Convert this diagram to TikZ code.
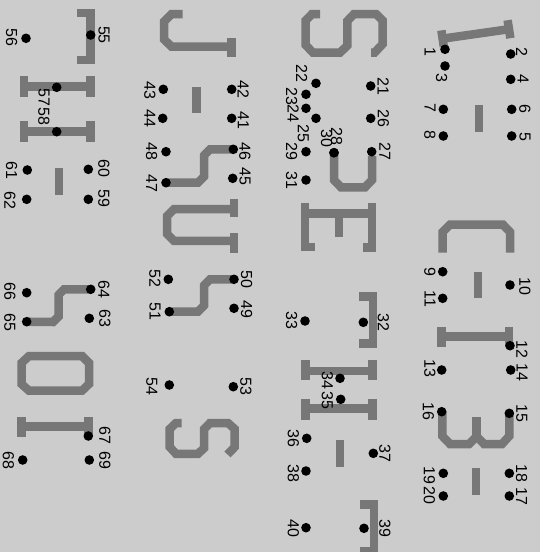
\documentclass[tikz,border=0pt]{standalone}
\usepackage{fontspec}
\setmainfont{Liberation Sans}
\definecolor{bggray}{RGB}{204,204,204}
\definecolor{glyphgray}{RGB}{119,119,119}
\newcommand\dl[5]{\node[dotst] (d#1) at (#2,#3) {}; \node[lab] (l#1) at (#4,#5) {#1};}
\tikzset{
  glyph/.style={draw=glyphgray, line width=8.5pt, line join=miter, line cap=butt},
  dotst/.style={circle, fill=black, inner sep=0pt, minimum size=9.6pt},
  lab/.style={rotate=-90, inner sep=0pt, font=\fontsize{16}{16}\selectfont}
}
\begin{document}
\begin{tikzpicture}[x=1pt,y=-1pt]
\useasboundingbox (0,0) rectangle (540,552);
\fill[bggray] (0,0) rectangle (540,552);
\begin{scope}[opacity=0]
\node[dotst] (d28) at (334,152.7) {};
\node[dotst] (d46) at (233.3,149.3) {};
\node[dotst] (d47) at (166,182.7) {};
\node[dotst] (d50) at (234,279.3) {};
\node[dotst] (d51) at (169.3,311.7) {};
\node[dotst] (d64) at (90.7,289.3) {};
\node[dotst] (d65) at (26.7,321.7) {};
\end{scope}
\begin{scope}
\clip (0,0) rectangle (540,552);
% column 1 (right)
\draw[glyph] (443,38.6) -- (509,29.2);
\draw[glyph] (441.4,30.4) -- (443.8,46.8);
\draw[glyph] (507.6,20.2) -- (510.4,38.2);
\draw[glyph] (478.8,105) -- (478.8,131.7);
\draw[glyph] (442.7,252.7) -- (442.7,232) -- (450,224.7) -- (503,224.7) -- (510,232) -- (510,252.7);
\draw[glyph] (477.8,271.7) -- (477.8,298.3);
\draw[glyph] (441.7,336.7) -- (509,336.7);
\draw[glyph] (441.7,326.7) -- (441.7,346.7);
\draw[glyph] (509,326.7) -- (509,346.7);
\draw[glyph] (442.3,411.7) -- (442.3,436) -- (450,444) -- (469,444) -- (476.7,436.5) -- (484,444) -- (502,444) -- (509.3,436) -- (509.3,413.3);
\draw[glyph] (476.7,417.3) -- (476.7,440);
\draw[glyph] (475.8,468.3) -- (475.8,495);
% column 2
\draw[glyph] (320,14) -- (312,14) -- (305.7,20.5) -- (305.7,45) -- (313,52.7) -- (340,52.7) -- (347.3,45.5) -- (347.3,21) -- (354,14) -- (376,14) -- (382.7,20.5) -- (382.7,44) -- (374.5,52.7) -- (371,52.7);
\draw[glyph] (d28.center) -- (334,180) -- (341,187.3) -- (365,187.3) -- (372,180) -- (372,156);
\draw[glyph] (305,203.3) -- (305,247) -- (315,247);
\draw[glyph] (372,203.3) -- (372,247.3) -- (362.7,247.3);
\draw[glyph] (305,213.3) -- (372,213.3);
\draw[glyph] (339,213.3) -- (339,236.7);
\draw[glyph] (359.3,296.7) -- (372.8,296.7) -- (372.8,343.3) -- (359.3,343.3);
\draw[glyph] (305.3,371) -- (372.3,371);
\draw[glyph] (305.3,360) -- (305.3,380);
\draw[glyph] (372.3,360) -- (372.3,380);
\draw[glyph] (305.3,408.3) -- (372.3,408.3);
\draw[glyph] (305.3,399.3) -- (305.3,420);
\draw[glyph] (372.3,399.3) -- (372.3,420);
\draw[glyph] (340,440) -- (340,466.7);
\draw[glyph] (360,504.5) -- (373.8,504.5) -- (373.8,551) -- (360,551);
% column 3
\draw[glyph] (182.7,14) -- (171.7,14) -- (164.2,21.5) -- (164.2,39.5) -- (171.5,46.7) -- (231.7,46.7);
\draw[glyph] (231.7,38.3) -- (231.7,56.7);
\draw[glyph] (196.7,87.3) -- (196.7,113.3);
\draw[glyph] (d46.center) -- (210,149.3) -- (204,155.5) -- (204,176.5) -- (198,182.7) -- (d47.center);
\draw[glyph] (233.8,209.2) -- (174,209.2) -- (167.2,216) -- (167.2,234) -- (174,240.8) -- (233.8,240.8);
\draw[glyph] (233.8,199.3) -- (233.8,216.7);
\draw[glyph] (233.8,233.3) -- (233.8,252.7);
\draw[glyph] (d50.center) -- (210,279.3) -- (204,285.5) -- (204,305.5) -- (198,311.7) -- (d51.center);
\draw[glyph] (181.7,423) -- (176,423) -- (169.7,429) -- (169.7,447) -- (176,453.8) -- (198,453.8) -- (204.2,448) -- (204.2,429) -- (210,423) -- (228,423) -- (234.7,429) -- (234.7,447) -- (227.5,454.5);
% column 4 (left)
\draw[glyph] (76.7,13) -- (90.5,13) -- (90.5,60) -- (76.7,60);
\draw[glyph] (23.8,86.7) -- (90.5,86.7);
\draw[glyph] (23.8,76) -- (23.8,96.7);
\draw[glyph] (90.5,76) -- (90.5,96.7);
\draw[glyph] (23.8,131.3) -- (90.5,131.3);
\draw[glyph] (23.8,120.7) -- (23.8,141.7);
\draw[glyph] (90.5,120.7) -- (90.5,141.7);
\draw[glyph] (58.8,168.3) -- (58.8,195);
\draw[glyph] (d64.center) -- (64,289.3) -- (58.5,295) -- (58.5,316.5) -- (53,322) -- (d65.center);
\draw[glyph] (29,356) -- (82,356) -- (89,363) -- (89,384) -- (82,390.7) -- (29,390.7) -- (21.5,384) -- (21.5,363) -- cycle;
\draw[glyph] (21.7,426.3) -- (88.3,426.3);
\draw[glyph] (21.7,417.3) -- (21.7,436.7);
\draw[glyph] (88.3,417.3) -- (88.3,436.7);
\end{scope}
\dl{1}{445}{49.3}{430}{52}
\dl{2}{510.7}{54}{521.7}{51.7}
\dl{3}{445}{66}{441.7}{78}
\dl{4}{510.7}{79.3}{523}{79.3}
\dl{5}{511.7}{136}{525}{136.7}
\dl{6}{511.7}{109.3}{525}{109.3}
\dl{7}{443.3}{109.3}{430}{108.3}
\dl{8}{443.3}{136}{430}{135}
\dl{9}{442.7}{271.7}{430}{271.7}
\dl{10}{510}{285}{525}{286.7}
\dl{11}{442.7}{298.3}{430}{299.3}
\dl{12}{510}{345.7}{522}{349}
\dl{13}{441.7}{370}{430}{368}
\dl{14}{510.7}{370}{522}{372}
\dl{15}{509.3}{413.3}{521.7}{413.3}
\dl{16}{441.7}{411.7}{428.3}{411.7}
\dl{17}{509.3}{496}{521.7}{496.7}
\dl{18}{509.3}{473.3}{521.7}{473.3}
\dl{19}{443.3}{473.3}{429.3}{475}
\dl{20}{443.3}{496}{429.3}{495}
\dl{21}{370.7}{86}{383.3}{86.7}
\dl{22}{316}{83.3}{301.7}{73.5}
\dl{23}{306}{94.3}{291.7}{96.7}
\dl{24}{306}{108.3}{293.3}{113.3}
\dl{25}{316}{118.3}{303.3}{133.3}
\dl{26}{370.7}{118.3}{383.3}{118.3}
\dl{27}{371.7}{151.7}{385}{151.7}
\dl{28}{334}{152.7}{336.7}{136}
\dl{29}{306}{151.7}{291.7}{151.7}
\dl{30}{334}{152.7}{326.7}{138.3}
\dl{31}{306}{180}{291.7}{180}
\dl{32}{363.3}{322.3}{383.3}{322.3}
\dl{33}{305}{321}{291.7}{320}
\dl{34}{340}{378.3}{327.3}{380.7}
\dl{35}{340.7}{399.3}{327.3}{400}
\dl{36}{306.7}{438.3}{293.3}{438.3}
\dl{37}{373.3}{453.3}{385}{453.3}
\dl{38}{306}{471}{293.3}{473.3}
\dl{39}{364}{528.3}{385}{528.3}
\dl{40}{306}{527.7}{293.3}{528.3}
\dl{41}{231.7}{118.3}{243.3}{120}
\dl{42}{231.7}{89.3}{243.3}{89.3}
\dl{43}{163.3}{89.3}{150}{90}
\dl{44}{162.7}{118.3}{150}{118.3}
\dl{45}{232.7}{178.3}{245}{176.7}
\dl{46}{233.3}{149.3}{245}{151.7}
\dl{47}{166}{182.7}{151.7}{183.3}
\dl{48}{166}{151.7}{151.7}{151.7}
\dl{49}{234}{308.3}{246.7}{309.3}
\dl{50}{234}{279.3}{246.7}{279.3}
\dl{51}{169.3}{311.7}{155}{311.7}
\dl{52}{168.3}{279.3}{155}{278.3}
\dl{53}{233.3}{386.7}{246}{386.7}
\dl{54}{169.3}{385}{151.7}{386}
\dl{55}{90.7}{35}{104}{35}
\dl{56}{26}{38.3}{11.7}{37.3}
\dl{57}{56.7}{87.3}{44}{97}
\dl{58}{56.7}{131.7}{44}{116}
\dl{59}{88.3}{199.3}{104}{198.3}
\dl{60}{88.3}{169.3}{104}{168.3}
\dl{61}{27.3}{170}{11.7}{170}
\dl{62}{26.7}{199.3}{10}{200}
\dl{63}{89.3}{318.3}{105}{318.3}
\dl{64}{90.7}{289.3}{104}{289.3}
\dl{65}{26.7}{321.7}{10}{322.7}
\dl{66}{26.7}{292.7}{10}{291.7}
\dl{67}{88.3}{436}{105}{435}
\dl{68}{22.7}{460}{8.3}{460}
\dl{69}{89.3}{460}{105}{460}
\end{tikzpicture}
\end{document}
